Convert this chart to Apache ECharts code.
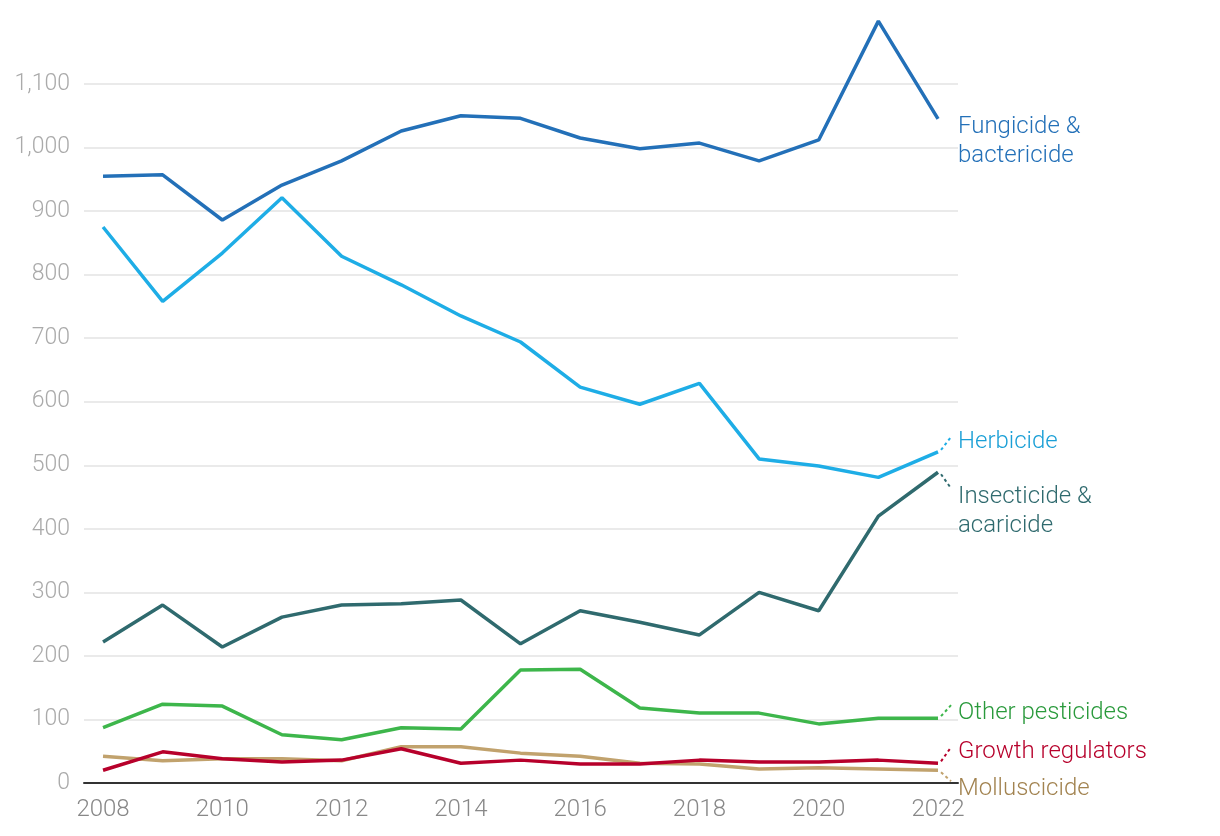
<!DOCTYPE html>
<html><head><meta charset="utf-8">
<script src="https://cdn.jsdelivr.net/npm/echarts@6/dist/echarts.min.js"></script>
<style>html,body{margin:0;padding:0;background:#fff}#c{width:1220px;height:836px}</style>
</head><body><div id="c"></div>
<script>
const years = [2008,2009,2010,2011,2012,2013,2014,2015,2016,2017,2018,2019,2020,2021,2022];
const xTicks = [2008,2010,2012,2014,2016,2018,2020,2022];
const fungicide = [955,957,886,941,979,1026,1050,1046,1015,998,1007,979,1012,1199,1045];
const herbicide = [875,758,834,921,829,784,735,694,623,596,629,510,499,481,521];
const insecticide = [222,280,214,261,280,282,288,219,271,253,233,300,271,420,489];
const otherPest = [87,124,121,76,68,87,85,178,179,118,110,110,93,102,102];
const growthReg = [20,49,38,33,36,54,31,36,30,30,36,33,33,36,31];
const molluscicide = [42,35,38,38,35,57,57,47,42,31,30,22,24,22,20];
const names = ['Fungicide &\nbactericide','Herbicide','Insecticide &\nacaricide','Other pesticides','Growth regulators','Molluscicide'];
const seriesData = [fungicide, herbicide, insecticide, otherPest, growthReg, molluscicide];
const colors = ['#2370b8','#1eade6','#2f6a6e','#3db64b','#b7002b','#c1a26d'];
const labelColors = ['#2370b8','#1a9fd6','#2f6a6e','#2a9a3c','#b7002b','#a28350'];
const labelDy = [23,-10,39,-5,-11,19];
const connDy = [0,-15,16,-13,-16,11];

const chart = echarts.init(document.getElementById('c'), null, {renderer:'canvas'});
const option = {
  animation:false,
  grid:{left:84,right:262,top:84,bottom:53},
  xAxis:{type:'value',min:2007.681,max:2022.335,
    axisLine:{show:true,lineStyle:{color:'#333',width:2}},
    axisTick:{show:false},splitLine:{show:false},
    axisLabel:{customValues:xTicks,color:'#888',fontSize:24,fontFamily:'Roboto',fontWeight:300,margin:15,formatter:v=>String(v)}},
  yAxis:{type:'value',min:0,max:1100,interval:100,
    axisLine:{show:false},axisTick:{show:false},
    splitLine:{lineStyle:{color:'#e3e3e3',width:1.5}},
    axisLabel:{color:'#aaa',fontSize:23,fontFamily:'Roboto',fontWeight:300,margin:14,
      formatter:v=>v.toLocaleString('en-US')}},
  series: seriesData.map((d,i)=>({
    type:'line',name:names[i],clip:false,showSymbol:false,symbol:'none',
    data:d.map((v,j)=>[years[j],v]),
    lineStyle:{color:colors[i],width:3.5},itemStyle:{color:colors[i]},
    z:10-i
  })).reverse()
};
chart.setOption(option);

const g = [];
seriesData.forEach((d,i)=>{
  const p = chart.convertToPixel({gridIndex:0},[years[years.length-1], d[d.length-1]]);
  g.push({type:'text',x:958,y:p[1]+labelDy[i],
    style:{text:names[i],fill:labelColors[i],font:'300 24px Roboto',lineHeight:29,
      align:'left',verticalAlign:'middle'}});
  if(connDy[i]!==0){
    g.push({type:'line',shape:{x1:p[0]+3,y1:p[1]+(connDy[i]>0?2:-2),x2:p[0]+13,y2:p[1]+connDy[i]},
      style:{stroke:colors[i],lineWidth:2,lineDash:[3,3]}});
  }
});
chart.setOption({graphic:g});
</script></body></html>
